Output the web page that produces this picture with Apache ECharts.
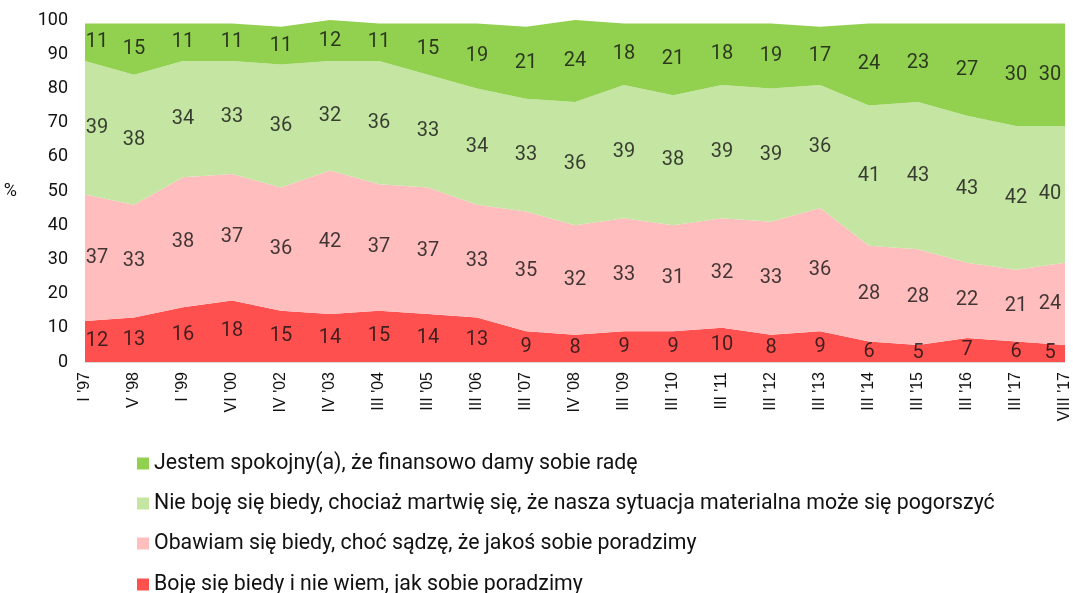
<!DOCTYPE html>
<html><head><meta charset="utf-8">
<script src="https://cdn.jsdelivr.net/npm/echarts@6/dist/echarts.min.js"></script>
<style>html,body{margin:0;padding:0;background:#fff}#c{width:1073px;height:593px}</style>
</head><body><div id="c"></div>
<script>
const categories = ["I '97","V '98","I '99","VI '00","IV '02","IV '03","III '04","III '05","III '06","III '07","IV '08","III '09","III '10","III '11","III '12","III '13","III '14","III '15","III '16","III '17","VIII '17"];
const boje = [12,13,16,18,15,14,15,14,13,9,8,9,9,10,8,9,6,5,7,6,5];
const obawiam = [37,33,38,37,36,42,37,37,33,35,32,33,31,32,33,36,28,28,22,21,24];
const nieBoje = [39,38,34,33,36,32,36,33,34,33,36,39,38,39,39,36,41,43,43,42,40];
const spokojny = [11,15,11,11,11,12,11,15,19,21,24,18,21,18,19,17,24,23,27,30,30];
const yTicks = [0,10,20,30,40,50,60,70,80,90,100];

const names = [
  "Boję się biedy i nie wiem, jak sobie poradzimy",
  "Obawiam się biedy, choć sądzę, że jakoś sobie poradzimy",
  "Nie boję się biedy, chociaż martwię się, że nasza sytuacja materialna może się pogorszyć",
  "Jestem spokojny(a), że finansowo damy sobie radę"
];
const colors = ["#FF5050", "#FFBDBD", "#C5E5A3", "#92D050"];
const seriesData = [boje, obawiam, nieBoje, spokojny];

const series = [];
seriesData.forEach((d, i) => {
  series.push({
    name: names[i], type: 'line', stack: 'total', data: d,
    symbol: 'none', lineStyle: {width: 0}, itemStyle: {color: colors[i]},
    areaStyle: {color: colors[i], opacity: 1}, z: 2
  });
});
// label positions: centre of each band
const base = categories.map(() => 0);
seriesData.forEach((d, i) => {
  const pts = d.map((v, j) => {
    const c = base[j] + v / 2;
    base[j] += v;
    let off = 0;
    if (j === 0) off = 12;
    if (j === d.length - 1) off = -15;
    return {value: [j, c], raw: v, label: {offset: [off, 0]}};
  });
  series.push({
    type: 'scatter', data: pts, symbolSize: 0, silent: true, z: 5,
    label: {show: true, position: 'inside', color: '#111', fontFamily: 'Roboto', fontSize: 20,
      formatter: p => String(p.data.raw)}
  });
});

const legendCommon = {
  orient: 'vertical', left: 132, itemGap: 19,
  itemWidth: 12, itemHeight: 12, icon: 'rect',
  textStyle: {fontFamily: 'Roboto', fontSize: 21.3, color: '#111'}
};

const chart = echarts.init(document.getElementById('c'));
chart.setOption({
  animation: false,
  grid: {left: 85, right: 6, top: 20, bottom: 231},
  legend: [
    Object.assign({data: [names[3], names[2], names[1]], top: 448}, legendCommon),
    Object.assign({data: [names[0]], top: 569}, legendCommon)
  ],
  xAxis: {
    type: 'category', data: categories, boundaryGap: false,
    axisLine: {show: true, lineStyle: {color: '#d9d9d9', width: 1}},
    axisTick: {show: false},
    axisLabel: {rotate: 90, interval: 0, margin: 10, fontFamily: 'Liberation Sans', fontSize: 16, color: '#111'}
  },
  yAxis: {
    type: 'value', min: 0, max: 100, interval: 10,
    name: '%', nameLocation: 'middle', nameRotate: 0, nameGap: 68,
    nameTextStyle: {fontFamily: 'Roboto', fontSize: 18, color: '#111'},
    axisLine: {show: false}, axisTick: {show: false}, splitLine: {show: false},
    axisLabel: {margin: 17, fontFamily: 'Roboto', fontSize: 18, color: '#111',
      formatter: v => yTicks.includes(v) ? String(v) : ''}
  },
  series: series
});
</script></body></html>
